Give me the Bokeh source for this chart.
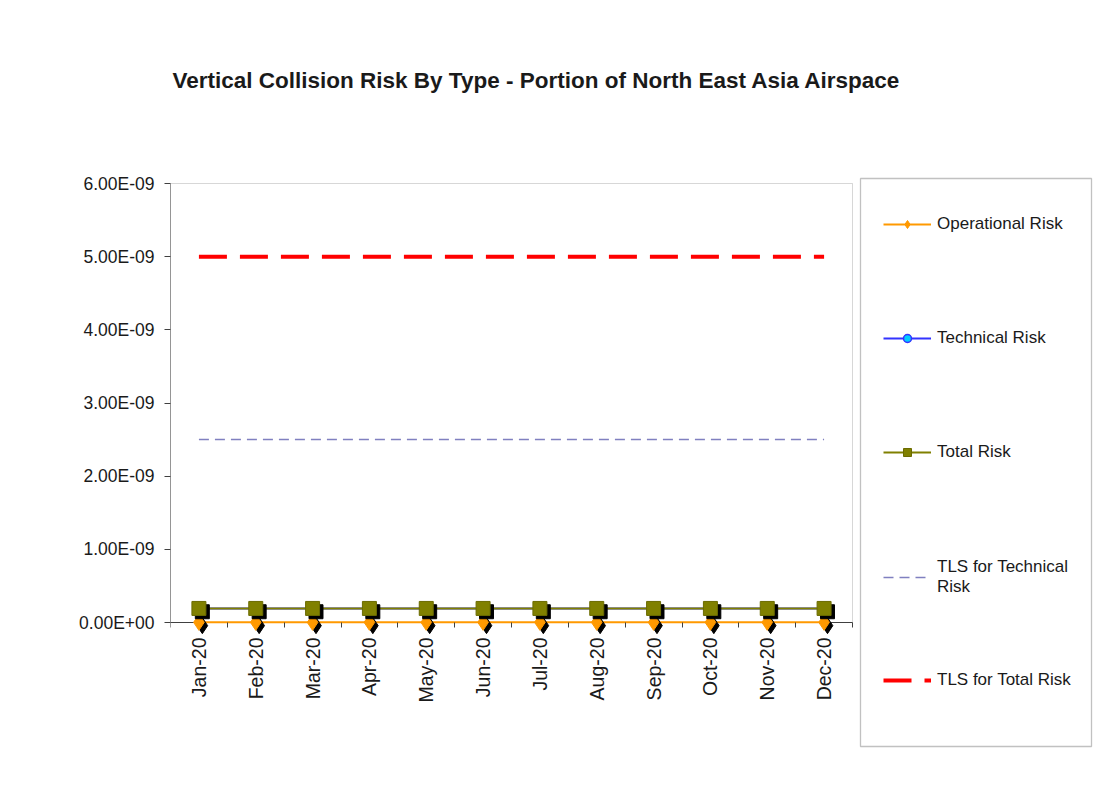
from bokeh.plotting import figure
from bokeh.models import (Range1d, FixedTicker, CustomJSTickFormatter, Legend, LegendItem,
                          ColumnDataSource, LinearAxis, BoxAnnotation, Label, LabelSet)
from bokeh.transform import dodge
from bokeh.core.properties import value
from bokeh.embed import file_html
from bokeh.resources import INLINE
import math

# ---- data ----
months = ["Jan-20", "Feb-20", "Mar-20", "Apr-20", "May-20", "Jun-20",
          "Jul-20", "Aug-20", "Sep-20", "Oct-20", "Nov-20", "Dec-20"]
operational_risk = [2e-12, 2e-12, 2e-12, 2e-12, 2e-12, 2e-12,
                    2e-12, 2e-12, 2e-12, 2e-12, 2e-12, 2e-12]
technical_risk = [1.90e-10, 1.90e-10, 1.90e-10, 1.90e-10, 1.90e-10, 1.90e-10,
                  1.90e-10, 1.90e-10, 1.90e-10, 1.90e-10, 1.90e-10, 1.90e-10]
total_risk = [1.92e-10, 1.92e-10, 1.92e-10, 1.92e-10, 1.92e-10, 1.92e-10,
              1.92e-10, 1.92e-10, 1.92e-10, 1.92e-10, 1.92e-10, 1.92e-10]
tls_technical = [2.5e-9, 2.5e-9, 2.5e-9, 2.5e-9, 2.5e-9, 2.5e-9,
                 2.5e-9, 2.5e-9, 2.5e-9, 2.5e-9, 2.5e-9, 2.5e-9]
tls_total = [5.0e-9, 5.0e-9, 5.0e-9, 5.0e-9, 5.0e-9, 5.0e-9,
             5.0e-9, 5.0e-9, 5.0e-9, 5.0e-9, 5.0e-9, 5.0e-9]
y_ticks = [0.0, 1e-9, 2e-9, 3e-9, 4e-9, 5e-9, 6e-9]
series_names = ["Operational Risk", "Technical Risk", "Total Risk",
                "TLS for Technical\nRisk", "TLS for Total Risk"]
title_text = "Vertical Collision Risk By Type  - Portion of North East Asia Airspace"

n = len(months)
idx = list(range(n))
src = ColumnDataSource(dict(x=idx, m=months, op=operational_risk, tech=technical_risk,
                            tot=total_risk, tlst=tls_technical, tlstot=tls_total))

FONT = "Liberation Sans"
TXT = "#1a1a1a"
Y_MAX = y_ticks[-1]

# ---- layout (pixels) ----
W, H = 1094, 790
FRAME_L, FRAME_R, FRAME_T, FRAME_B = 170, 1093, 40, 770   # drawing frame
PLOT_L, PLOT_R, PLOT_T, PLOT_B = 170, 852, 183, 622       # chart plot area
LEG_L, LEG_R, LEG_T, LEG_B = 860, 1091, 178, 746          # legend box

sx = n / (PLOT_R - PLOT_L)
sy = Y_MAX / (PLOT_B - PLOT_T)
def xd(px): return -0.5 + (px - FRAME_L) * sx
def yd(py): return (PLOT_B - py) * sy

p = figure(width=W, height=H, output_backend="svg", toolbar_location=None,
           x_range=Range1d(xd(FRAME_L), xd(FRAME_R)), y_range=Range1d(yd(FRAME_B), yd(FRAME_T)),
           min_border_left=FRAME_L, min_border_right=W - FRAME_R,
           min_border_top=FRAME_T, min_border_bottom=H - FRAME_B,
           x_axis_type=None, y_axis_type=None)
p.grid.visible = False
p.outline_line_color = None
p.background_fill_color = "white"
p.border_fill_color = "white"

# title
p.add_layout(Label(x=2, y=FRAME_B - 80, x_units="screen", y_units="screen", text=title_text,
                   text_font=FONT, text_font_size="22.5px", text_font_style="bold",
                   text_color=TXT, text_baseline="middle", text_align="left"))

# x axis: tick marks at category boundaries on the zero line
xaxis = LinearAxis(fixed_location=0,
                   ticker=FixedTicker(ticks=[], minor_ticks=[i - 0.5 for i in range(n + 1)]))
xaxis.axis_line_color = None
xaxis.major_tick_line_color = None
xaxis.minor_tick_in = 0
xaxis.minor_tick_out = 5
xaxis.minor_tick_line_color = "#404040"
xaxis.major_label_text_font_size = "0px"
p.add_layout(xaxis, "below")

# category labels
p.add_layout(LabelSet(x="x", y=0, text="m", source=src, angle=math.pi / 2, y_offset=-15,
                      text_align="right", text_baseline="middle", text_font=value(FONT),
                      text_font_size=value("19.5px"), text_color=TXT))

# y axis
yaxis = LinearAxis(ticker=FixedTicker(ticks=y_ticks, minor_ticks=[]),
                   formatter=CustomJSTickFormatter(code="""
                       let s = tick.toExponential(2);
                       let [m, e] = s.split('e');
                       let sign = e[0] === '-' ? '-' : '+';
                       let d = e.replace('-', '').replace('+', '');
                       if (d.length < 2) d = '0' + d;
                       return m + 'E' + sign + d;
                   """))
yaxis.axis_line_color = None
yaxis.major_tick_line_color = "#404040"
yaxis.major_tick_in = 0
yaxis.major_tick_out = 6
yaxis.minor_tick_line_color = None
yaxis.major_label_text_font = FONT
yaxis.major_label_text_font_size = "17.5px"
yaxis.major_label_text_color = TXT
yaxis.major_label_standoff = 10
p.add_layout(yaxis, "left")

# plot-area border and axis lines
p.add_layout(BoxAnnotation(left=-0.5, right=n - 0.5, bottom=0, top=Y_MAX,
                           fill_alpha=0, fill_color=None, line_color="#7a7a7a", line_width=1,
                           level="underlay"))
p.segment(x0=[-0.5, -0.5], y0=[0, 0], x1=[-0.5, n - 0.5], y1=[Y_MAX, 0],
          line_color="#404040", line_width=1)

# series (with drop shadows under the markers)
OP = dict(line_color="#FF9900", line_width=2)
TE = dict(line_color="#3333FF", line_width=2)
TO = dict(line_color="#808000", line_width=2)

l_op = p.line("x", "op", source=src, **OP)
p.scatter(dodge("x", 0.06), dodge("op", -4.5e-11), source=src, marker="diamond", size=16,
          fill_color="black", line_color="black")
s_op = p.scatter("x", "op", source=src, marker="diamond", size=16,
                 fill_color="#FF9900", line_color="#FF9900")

l_te = p.line("x", "tech", source=src, **TE)
s_te = p.scatter("x", "tech", source=src, marker="circle", size=9,
                 fill_color="#00CCFF", line_color="#3333FF", line_width=1.5)

l_to = p.line("x", "tot", source=src, **TO)
p.scatter(dodge("x", 0.06), dodge("tot", -4.5e-11), source=src, marker="square", size=14,
          fill_color="black", line_color="black")
s_to = p.scatter("x", "tot", source=src, marker="square", size=14,
                 fill_color="#808000", line_color="#6b6b00")

l_tt = p.line("x", "tlst", source=src, line_color="#8080C0", line_width=1.5, line_dash="10 6")
l_tl = p.line("x", "tlstot", source=src, line_color="#FF0000", line_width=4, line_dash="28 13")

# legend box + entries
p.add_layout(BoxAnnotation(left=xd(LEG_L), right=xd(LEG_R), top=yd(LEG_T), bottom=yd(LEG_B),
                           fill_alpha=0, fill_color=None, line_color="#333333", line_width=1.3))


def make_legend(items, loc, spacing):
    lg = Legend(items=items, location=loc)
    lg.border_line_color = None
    lg.background_fill_alpha = 0
    lg.padding = 0
    lg.margin = 0
    lg.spacing = spacing
    lg.glyph_width = 48
    lg.glyph_height = 20
    lg.label_height = 20
    lg.label_standoff = 6
    lg.label_text_font = FONT
    lg.label_text_font_size = "17px"
    lg.label_text_color = TXT
    return lg


leg_x = 883 - FRAME_L
leg_a = make_legend([LegendItem(label=series_names[0], renderers=[l_op, s_op]),
                     LegendItem(label=series_names[1], renderers=[l_te, s_te]),
                     LegendItem(label=series_names[2], renderers=[l_to, s_to])],
                    (leg_x, FRAME_B - 462), 94)
leg_b = make_legend([LegendItem(label=series_names[3], renderers=[l_tt]),
                     LegendItem(label=series_names[4], renderers=[l_tl])],
                    (leg_x, FRAME_B - 690), 73)
p.add_layout(leg_a, "center")
p.add_layout(leg_b, "center")

open("out.html", "w").write(file_html(p, INLINE))
